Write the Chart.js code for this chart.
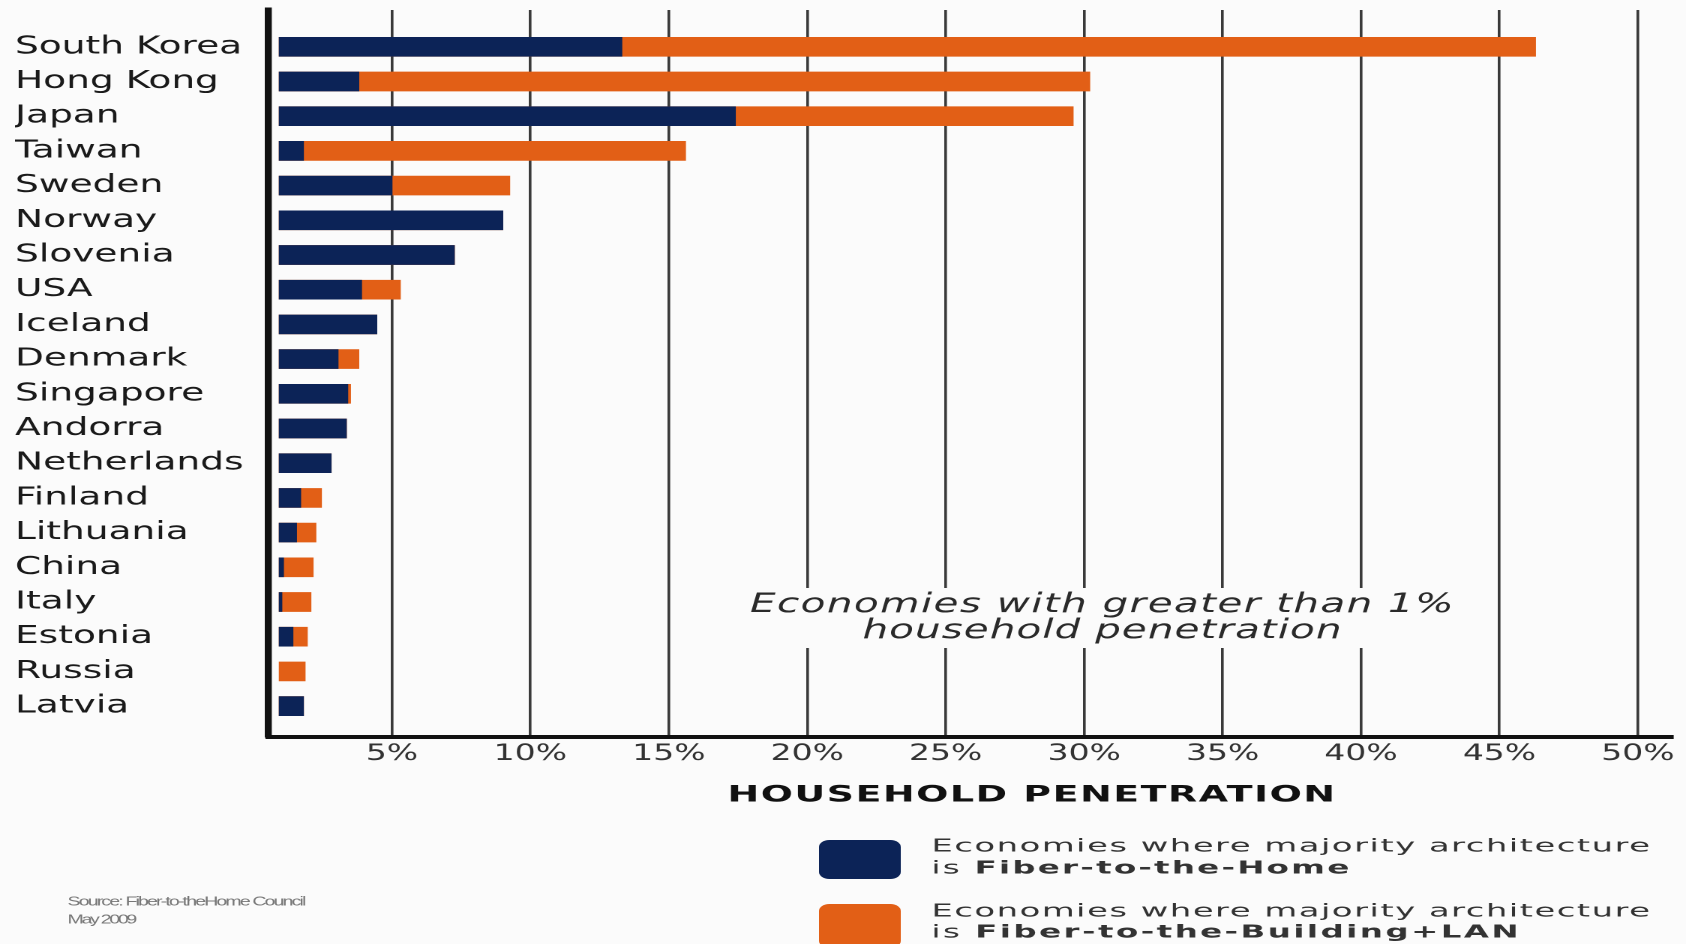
<!DOCTYPE html>
<html>
<head>
<meta charset="utf-8">
<title>Household penetration</title>
<script src="https://cdn.jsdelivr.net/npm/chart.js@4.4.1/dist/chart.umd.min.js"></script>
<style>
  html, body { margin: 0; padding: 0; background: #fbfbfb; overflow: hidden; }
  /* the original picture is stretched wide, so the chart is drawn narrow and scaled */
  #wrap { position: absolute; left: 0; top: 0; width: 1124px; height: 944px; transform: scaleX(1.5); transform-origin: 0 0; }
</style>
</head>
<body>
<div id="wrap"><canvas id="grafico"></canvas></div>
<script>
// Dados
const countries = ['South Korea', 'Hong Kong', 'Japan', 'Taiwan', 'Sweden', 'Norway', 'Slovenia', 'USA', 'Iceland', 'Denmark',
  'Singapore', 'Andorra', 'Netherlands', 'Finland', 'Lithuania', 'China', 'Italy', 'Estonia', 'Russia', 'Latvia'];
const fiberToHome = [13.3, 3.8, 17.4, 1.8, 5.0, 9.0, 7.25, 3.9, 4.45, 3.05, 3.4, 3.35, 2.8, 1.7, 1.55, 1.08, 1.02, 1.42, null, 1.8];
const fiberToBuilding = [33.0, 26.4, 12.2, 13.8, 4.25, 0, 0, 1.4, 0, 0.75, 0.1, 0, 0, 0.75, 0.7, 1.07, 1.05, 0.52, 1.86, 0];
const tickValues = [5, 10, 15, 20, 25, 30, 35, 40, 45, 50];

const NAVY = '#0c2357';
const ORANGE = '#e25f16';
const FONT = '"DejaVu Sans", Verdana, sans-serif';
const INICIO_BARRA = 0.93; // as barras começam um pouco depois do eixo

// escreve texto (esticado k vezes) ajustando o espaçamento para ocupar a largura dada
function textoLargura(ctx, partes, x, y, largura, centro, k = 1) {
  ctx.letterSpacing = '0px';
  let natural = 0, n = 0;
  partes.forEach(([t, f]) => { ctx.font = f; natural += ctx.measureText(t).width; n += t.length; });
  const sp = (largura / k - natural) / n;
  const x0 = centro ? x - largura / 2 : x;
  ctx.save();
  ctx.translate(x0, y);
  ctx.scale(k, 1);
  ctx.textAlign = 'left';
  ctx.textBaseline = 'middle';
  let cx = 0;
  partes.forEach(([t, f]) => {
    ctx.font = f;
    ctx.letterSpacing = '0px';
    const w = ctx.measureText(t).width;
    ctx.letterSpacing = sp + 'px';
    ctx.fillText(t, cx, 0);
    cx += w + sp * t.length;
  });
  ctx.restore();
  ctx.letterSpacing = '0px';
}

const decoracao = {
  id: 'decoracao',
  beforeDraw(chart) {
    const ctx = chart.ctx;
    ctx.save();
    ctx.fillStyle = '#fbfbfb';
    ctx.fillRect(0, 0, chart.width, chart.height);
    ctx.restore();
  },
  afterDatasetsDraw(chart) {
    const ctx = chart.ctx;
    ctx.save();
    // caixa branca por trás da nota
    ctx.fillStyle = '#fbfbfb';
    ctx.fillRect(490, 588, 490, 60);
    ctx.fillStyle = '#2a2a2a';
    textoLargura(ctx, [['Economies with greater than 1%', 'italic 27px ' + FONT]], 735, 605, 470, true);
    textoLargura(ctx, [['household penetration', 'italic 27px ' + FONT]], 735, 631, 320, true);
    ctx.restore();
  },
  afterDraw(chart) {
    const ctx = chart.ctx;
    ctx.save();
    ctx.fillStyle = '#111';
    textoLargura(ctx, [['HOUSEHOLD PENETRATION', 'bold 22px ' + FONT]], 485, 796, 406, false, 1.15);

    // legenda
    ctx.fillStyle = NAVY;
    ctx.beginPath(); ctx.roundRect(546, 840, 54.5, 39, 7); ctx.fill();
    ctx.fillStyle = ORANGE;
    ctx.beginPath(); ctx.roundRect(546, 904, 54.5, 44, 7); ctx.fill();

    ctx.fillStyle = '#333';
    const reg = '18px ' + FONT, neg = 'bold 18px ' + FONT;
    textoLargura(ctx, [['Economies where majority architecture', reg]], 621, 847, 480, false, 1.25);
    textoLargura(ctx, [['is ', reg], ['Fiber-to-the-Home', neg]], 621, 869, 280, false, 1.2);
    textoLargura(ctx, [['Economies where majority architecture', reg]], 621, 912, 480, false, 1.25);
    textoLargura(ctx, [['is ', reg], ['Fiber-to-the-Building+LAN', neg]], 621, 933, 393, false, 1.2);

    // fonte
    ctx.fillStyle = '#777';
    const src = '13px "Liberation Sans Narrow", "Liberation Sans", sans-serif';
    textoLargura(ctx, [['Source: Fiber-to-theHome Council', src]], 45, 902, 158, false);
    textoLargura(ctx, [['May 2009', src]], 45, 920, 45, false);
    ctx.restore();
  }
};

new Chart(document.getElementById('grafico').getContext('2d'), {
  type: 'bar',
  data: {
    datasets: [
      {
        label: 'Fiber-to-the-Home',
        data: fiberToHome.map((v, i) => ({ x: v, y: i })),
        backgroundColor: NAVY, borderWidth: 0, barThickness: 19, base: INICIO_BARRA, clip: 0
      },
      {
        label: 'Fiber-to-the-Building+LAN',
        data: fiberToBuilding.map((v, i) => ({ x: v, y: i })),
        backgroundColor: ORANGE, borderWidth: 0, barThickness: 19, clip: 0,
        // só quando não há parte azul a barra laranja começa no mesmo ponto
        base: c => fiberToHome[c.dataIndex] == null ? INICIO_BARRA : undefined
      }
    ]
  },
  options: {
    indexAxis: 'y',
    responsive: true, maintainAspectRatio: false,
    devicePixelRatio: 2,
    animation: false,
    layout: { padding: { left: 10, right: 9, top: 10, bottom: 0 } },
    plugins: { legend: { display: false }, tooltip: { enabled: false } },
    scales: {
      x: {
        type: 'linear', stacked: true, min: 0.54, max: 51.25,
        grid: { color: '#3a3a3a', lineWidth: 1.8, drawTicks: false },
        border: { color: '#111', width: 4, z: 1 },
        ticks: { color: '#333', font: { family: FONT, size: 22 }, padding: 4, callback: v => v + '%' },
        afterBuildTicks: s => { s.ticks = tickValues.map(v => ({ value: v })); },
        afterFit: s => { s.height = 207; s.paddingLeft = 0; s.paddingRight = 0; }
      },
      y: {
        type: 'linear', stacked: true, min: -1.06, max: 19.89, reverse: true, offset: false,
        grid: { display: false },
        border: { color: '#111', width: 4.7, z: 1 },
        ticks: { color: '#1a1a1a', font: { family: FONT, size: 25 }, crossAlign: 'far', padding: 8, callback: v => countries[v] },
        afterBuildTicks: s => { s.ticks = countries.map((c, i) => ({ value: i })); },
        afterFit: s => { s.width = 169; s.paddingTop = 0; s.paddingBottom = 0; }
      }
    }
  },
  plugins: [decoracao]
});
</script>
</body>
</html>
